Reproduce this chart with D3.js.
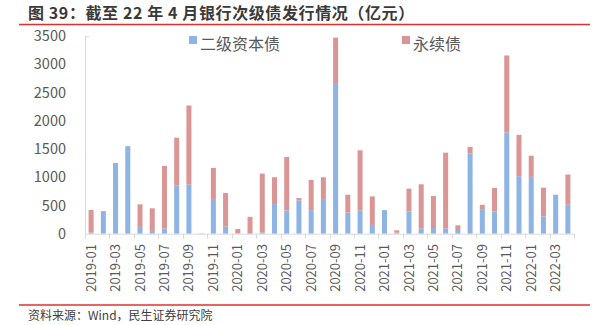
<!DOCTYPE html>
<html><head><meta charset="utf-8">
<script src="https://cdn.jsdelivr.net/npm/d3@7"></script>
<style>body{margin:0;background:#fff}svg{display:block}text{font-family:"Noto Sans CJK SC","Noto Sans",sans-serif}</style>
</head><body>
<svg id="c" width="601" height="325"></svg>
<script>
const months = ["2019-01","2019-02","2019-03","2019-04","2019-05","2019-06","2019-07","2019-08","2019-09","2019-10","2019-11","2019-12",
"2020-01","2020-02","2020-03","2020-04","2020-05","2020-06","2020-07","2020-08","2020-09","2020-10","2020-11","2020-12",
"2021-01","2021-02","2021-03","2021-04","2021-05","2021-06","2021-07","2021-08","2021-09","2021-10","2021-11","2021-12",
"2022-01","2022-02","2022-03","2022-04"];
const tier2 = [20,400,1250,1550,120,50,90,850,870,5,615,125,
10,0,25,524,410,589,417,613,2667,375,410,155,
417,18,393,95,101,95,65,1417,435,393,1792,1018,
1006,304,690,512];
const perpetual = [400,0,0,0,400,400,1110,850,1400,0,550,595,
73,298,1040,476,947,42,535,387,803,315,1066,506,
0,42,405,780,566,1340,84,119,77,417,1363,732,
375,511,0,536];
const yTicks = [0,500,1000,1500,2000,2500,3000,3500];
const seriesNames = ["二级资本债","永续债"];
const colors = ["#8db4e2","#da9694"];

const svg = d3.select("#c");
const x = d3.scaleBand().domain(months).range([85,574]).paddingInner(0.59).paddingOuter(0.295);
const y = d3.scaleLinear().domain([0,3500]).range([233.7,36]);

// title
svg.append("text").attr("x",28).attr("y",19).attr("font-size",16).attr("letter-spacing",0.6).attr("font-weight","bold").attr("fill","#3a3a3a")
  .text("图 39：截至 22 年 4 月银行次级债发行情况（亿元）");
svg.append("line").attr("x1",19).attr("x2",590).attr("y1",24.5).attr("y2",24.5).attr("stroke","#e0302e").attr("stroke-width",1.3);

// y axis labels
svg.append("g").selectAll("text").data(yTicks).join("text")
  .attr("x",66).attr("y",d=>y(d)).attr("dy","0.35em").attr("text-anchor","end")
  .attr("font-size",14.5).attr("fill","#595959").text(d=>d);
svg.append("line").attr("x1",85.5).attr("x2",85.5).attr("y1",y(3500)).attr("y2",y(0)).attr("stroke","#d9d9d9");
svg.append("line").attr("x1",85.5).attr("x2",89).attr("y1",y(3500)+0.5).attr("y2",y(3500)+0.5).attr("stroke","#d9d9d9");

// bars
const stack = months.map((m,i)=>({m, a:tier2[i], b:perpetual[i]}));
const g = svg.append("g");
g.selectAll("rect.a").data(stack).join("rect").attr("class","a")
  .attr("x",d=>x(d.m)).attr("width",x.bandwidth())
  .attr("y",d=>y(d.a)).attr("height",d=>y(0)-y(d.a)).attr("fill",colors[0]);
g.selectAll("rect.b").data(stack).join("rect").attr("class","b")
  .attr("x",d=>x(d.m)).attr("width",x.bandwidth())
  .attr("y",d=>y(d.a+d.b)).attr("height",d=>y(d.a)-y(d.a+d.b)).attr("fill",colors[1]);

// x axis
const x0 = x.range()[0], step = x.step();
svg.append("line").attr("x1",x0).attr("x2",x.range()[1]).attr("y1",y(0)+0.5).attr("y2",y(0)+0.5).attr("stroke","#d9d9d9");
const tickIdx = d3.range(0, months.length+1, 2);
svg.append("g").selectAll("line").data(tickIdx).join("line")
  .attr("x1",i=>Math.round(x0+i*step)+0.5).attr("x2",i=>Math.round(x0+i*step)+0.5)
  .attr("y1",y(0)).attr("y2",y(0)+5).attr("stroke","#d9d9d9");
svg.append("g").selectAll("text").data(months.filter((m,i)=>i%2===0)).join("text")
  .attr("transform",m=>`translate(${x(m)+x.bandwidth()/2},244) rotate(-90)`)
  .attr("text-anchor","end").attr("dy","0.35em").attr("font-size",13).attr("fill","#595959").text(m=>m);

// legend
const lg = [{n:seriesNames[0],c:colors[0],x:189},{n:seriesNames[1],c:colors[1],x:402}];
lg.forEach(l=>{
  svg.append("rect").attr("x",l.x).attr("y",36).attr("width",8).attr("height",8).attr("fill",l.c);
  svg.append("text").attr("x",l.x+11).attr("y",50).attr("font-size",16).attr("fill","#595959").text(l.n);
});

// footer
svg.append("line").attr("x1",19).attr("x2",590).attr("y1",305).attr("y2",305).attr("stroke","#e0302e").attr("stroke-width",1.3);
svg.append("text").attr("x",28).attr("y",320).attr("font-size",12).attr("fill","#404040").text("资料来源：Wind，民生证券研究院");
</script>
</body></html>
